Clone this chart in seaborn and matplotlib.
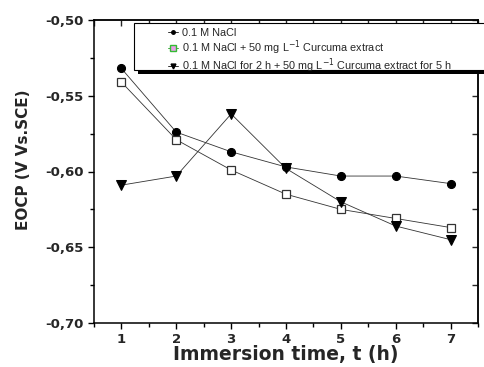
import matplotlib
matplotlib.use("Agg")
import matplotlib.pyplot as plt
from matplotlib.lines import Line2D
from matplotlib.patches import Rectangle
from matplotlib.ticker import MultipleLocator, FuncFormatter
import seaborn as sns
import pandas as pd

sns.set_theme(style="ticks")
plt.rcParams["font.family"] = ["DejaVu Sans"]

hours = [1, 2, 3, 4, 5, 6, 7]
nacl = [-0.532, -0.574, -0.587, -0.597, -0.603, -0.603, -0.608]
nacl_curcuma = [-0.541, -0.579, -0.599, -0.615, -0.625, -0.631, -0.637]
nacl_then_curcuma = [-0.609, -0.603, -0.562, -0.598, -0.620, -0.636, -0.645]

labels = [
    "0.1 M NaCl",
    "0.1 M NaCl + 50 mg L$^{-1}$ Curcuma extract",
    "0.1 M NaCl for 2 h + 50 mg L$^{-1}$ Curcuma extract for 5 h",
]

W, H = 485, 367
fig = plt.figure(figsize=(W / 100, H / 100), dpi=100)
ax = fig.add_axes([94 / W, 1 - 323 / H, (478 - 94) / W, (323 - 20) / H])

series = [
    (nacl, dict(marker="o", markersize=5.8, markerfacecolor="black", markeredgecolor="black")),
    (nacl_curcuma, dict(marker="s", markersize=5.6, markerfacecolor="white", markeredgecolor="#333333", markeredgewidth=0.9)),
    (nacl_then_curcuma, dict(marker="v", markersize=6.8, markerfacecolor="black", markeredgecolor="black")),
]
for vals, style in series:
    df = pd.DataFrame({"t": hours, "E": vals})
    sns.lineplot(data=df, x="t", y="E", ax=ax, color="#333333", linewidth=0.6,
                 legend=False, **style)

ax.set_xlim(0.5, 7.5)
ax.set_ylim(-0.70, -0.50)
ax.xaxis.set_major_locator(MultipleLocator(1))
ax.xaxis.set_minor_locator(MultipleLocator(0.5))
ax.yaxis.set_major_locator(MultipleLocator(0.05))
ax.yaxis.set_minor_locator(MultipleLocator(0.025))
ax.yaxis.set_major_formatter(FuncFormatter(lambda v, p: f"{v:.2f}".replace(".", ",")))
ax.set_xticks([1, 2, 3, 4, 5, 6, 7])

for s in ax.spines.values():
    s.set_linewidth(1.1)
    s.set_color("black")

ax.tick_params(which="both", direction="out", color="black", width=1.0)
ax.tick_params(which="major", length=4.5, labelsize=9.5, pad=3)
ax.tick_params(which="minor", length=3)
for lab in ax.get_xticklabels() + ax.get_yticklabels():
    lab.set_fontweight("bold")

# inward ticks on the top and right frame edges
top = ax.secondary_xaxis("top")
top.xaxis.set_major_locator(MultipleLocator(0.5))
top.tick_params(direction="in", length=4, width=1.0, labeltop=False)
right = ax.secondary_yaxis("right")
right.yaxis.set_major_locator(MultipleLocator(0.025))
right.tick_params(direction="in", length=4, width=1.0, labelright=False)
for sec in (top, right):
    for s in sec.spines.values():
        s.set_linewidth(1.1)

ax.set_xlabel("Immersion time, t (h)", fontsize=13.5, fontweight="bold", labelpad=-1)
ax.set_ylabel("EOCP (V Vs.SCE)", fontsize=11, fontweight="bold")
ax.yaxis.set_label_coords(-0.165, 0.54)

# legend frame with a solid drop shadow
x0, y0, x1, y1 = 134, 23, 495, 70
shadow = Rectangle((x0 + 4, H - y1 - 4), x1 - x0, y1 - y0, transform=None,
                   facecolor="black", edgecolor="none", zorder=9)
frame = Rectangle((x0, H - y1), x1 - x0, y1 - y0, transform=None,
                  facecolor="white", edgecolor="black", linewidth=0.8, zorder=9.5)
fig.add_artist(shadow)
fig.add_artist(frame)

handles = [
    Line2D([], [], color="#333333", lw=0.7, marker="o", markersize=2.5,
           markerfacecolor="black", markeredgecolor="black"),
    Line2D([], [], color="#44aa44", lw=0.7, marker="s", markersize=4,
           markerfacecolor="#e8a0e8", markeredgecolor="#33bb33"),
    Line2D([], [], color="#333333", lw=0.7, marker="v", markersize=3.5,
           markerfacecolor="black", markeredgecolor="black"),
]
leg = fig.legend(handles, labels, loc="upper left",
                 bbox_to_anchor=(165 / W, 1 - 25 / H),
                 prop={"family": "Liberation Sans", "size": 7.8},
                 frameon=False, handlelength=0.9, handletextpad=0.35,
                 labelspacing=0.0, borderpad=0.3, borderaxespad=0)
leg.set_zorder(11)

fig.savefig("out.png", dpi=100)
